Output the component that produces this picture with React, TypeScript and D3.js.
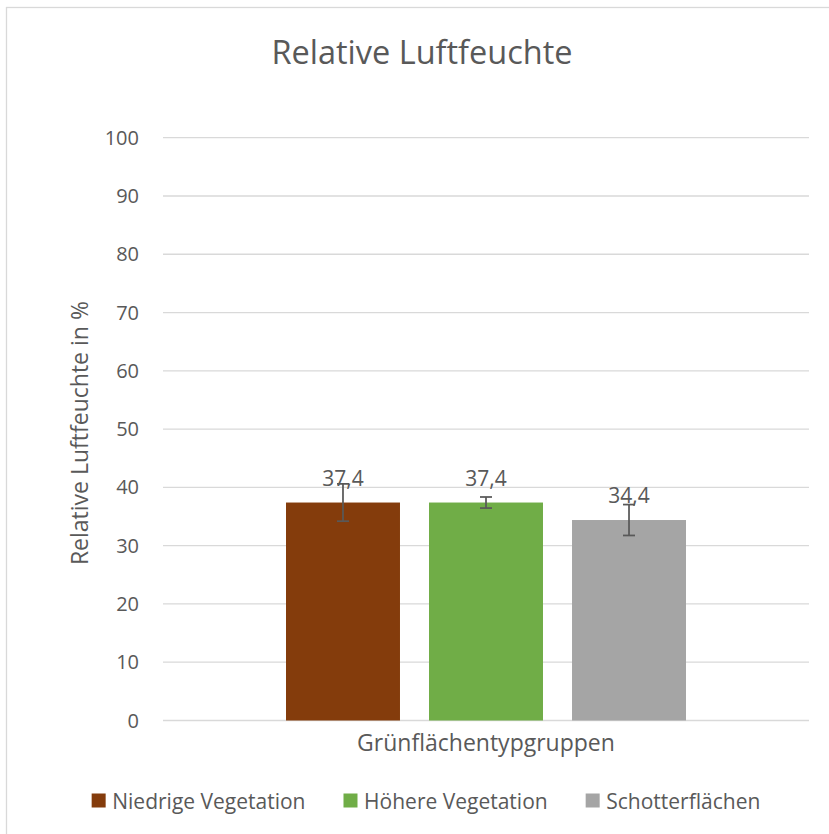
import React, { useEffect } from "react";
import * as d3 from "d3";

const title = "Relative Luftfeuchte";
const yAxisTitle = "Relative Luftfeuchte in %";
const categories = ["Grünflächentypgruppen"];
const seriesNames = ["Niedrige Vegetation", "Höhere Vegetation", "Schotterflächen"];
const seriesValues = [37.4, 37.4, 34.4];
const seriesErrors = [3.2, 0.95, 2.65];
const seriesLabels = ["37,4", "37,4", "34,4"];
const seriesColors = ["#843C0C", "#70AD47", "#A5A5A5"];
const yTicks = [0, 10, 20, 30, 40, 50, 60, 70, 80, 90, 100];

const FONT = "'Open Sans', sans-serif";
const TEXT = "#595959";
const GRID = "#D9D9D9";

function measure(text: string, size: number): number {
  const c = document.createElement("canvas");
  const ctx = c.getContext("2d")!;
  ctx.font = `${size}px 'Open Sans'`;
  return ctx.measureText(text).width;
}

export default function App() {
  useEffect(() => {
    document.body.style.margin = "0";
  }, []);

  const W = 829;
  const H = 834;
  const plot = { left: 163, right: 809, top: 137.7, bottom: 720.5 };

  const y = d3.scaleLinear().domain([0, 100]).range([plot.bottom, plot.top]);
  const x0 = d3
    .scaleBand<string>()
    .domain(categories)
    .range([plot.left, plot.right])
    .paddingInner(0)
    .paddingOuter(0.3075);
  const x1 = d3
    .scaleBand<string>()
    .domain(seriesNames)
    .range([0, x0.bandwidth()])
    .paddingInner(0.203)
    .paddingOuter(0);

  const legendSize = 21;
  const sq = 14;
  const sqGap = 6.6;
  const itemGap = 38;
  const widths = seriesNames.map((n) => measure(n, legendSize));
  const total =
    widths.reduce((a, b) => a + b, 0) + seriesNames.length * (sq + sqGap) + (seriesNames.length - 1) * itemGap;
  let lx = 426 - total / 2;
  const legendItems = seriesNames.map((n, i) => {
    const item = { name: n, x: lx, color: seriesColors[i] };
    lx += sq + sqGap + widths[i] + itemGap;
    return item;
  });

  return (
    <svg width={W} height={H} style={{ display: "block", fontFamily: FONT }}>
      <rect x={0} y={0} width={W} height={H} fill="#fff" />
      <rect x={6.5} y={7.5} width={900} height={900} fill="none" stroke={GRID} strokeWidth={1.3} />
      <text x={422} y={64} textAnchor="middle" fontSize={32.5} fill={TEXT}>
        {title}
      </text>
      {yTicks.map((t) => (
        <g key={t}>
          <line x1={plot.left} x2={plot.right} y1={y(t)} y2={y(t)} stroke={GRID} strokeWidth={1.3} />
          <text x={139} y={y(t)} dy="0.35em" textAnchor="end" fontSize={20} fill={TEXT}>
            {t}
          </text>
        </g>
      ))}
      <text
        transform={`translate(88,${(plot.top + plot.bottom) / 2 + 4}) rotate(-90)`}
        textAnchor="middle"
        fontSize={23}
        fill={TEXT}
      >
        {yAxisTitle}
      </text>
      {categories.map((c) => (
        <g key={c} transform={`translate(${x0(c)},0)`}>
          {seriesNames.map((s, i) => {
            const bx = x1(s)!;
            const bw = x1.bandwidth();
            const cx = bx + bw / 2;
            const v = seriesValues[i];
            const e = seriesErrors[i];
            return (
              <g key={s}>
                <rect x={bx} y={y(v)} width={bw} height={y(0) - y(v)} fill={seriesColors[i]} />
                <line x1={cx} x2={cx} y1={y(v + e)} y2={y(v - e)} stroke={TEXT} strokeWidth={1.75} />
                <line x1={cx - 6} x2={cx + 6} y1={y(v + e)} y2={y(v + e)} stroke={TEXT} strokeWidth={1.75} />
                <line x1={cx - 6} x2={cx + 6} y1={y(v - e)} y2={y(v - e)} stroke={TEXT} strokeWidth={1.75} />
                <text x={cx} y={y(v) - 17} textAnchor="middle" fontSize={21} fill={TEXT}>
                  {seriesLabels[i]}
                </text>
              </g>
            );
          })}
          <text x={x0.bandwidth() / 2} y={751} textAnchor="middle" fontSize={23} fill={TEXT}>
            {c}
          </text>
        </g>
      ))}
      {legendItems.map((it) => (
        <g key={it.name}>
          <rect x={it.x} y={793.5} width={sq} height={sq} fill={it.color} />
          <text x={it.x + sq + sqGap} y={808.5} fontSize={legendSize} fill={TEXT}>
            {it.name}
          </text>
        </g>
      ))}
    </svg>
  );
}
